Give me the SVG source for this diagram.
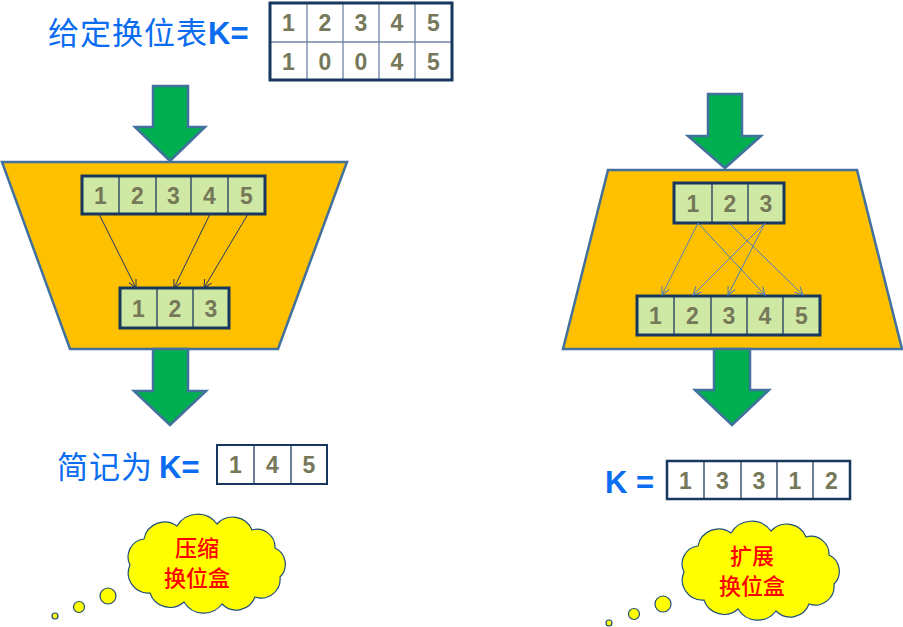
<svg xmlns="http://www.w3.org/2000/svg" width="903" height="627" viewBox="0 0 903 627">
<style>
.blue{fill:#0A6CF0;font-family:"Noto Sans CJK SC","Liberation Sans",sans-serif;font-size:31px}
.kb{font-family:"Liberation Sans",Arial,sans-serif;font-weight:bold}
.d{fill:#76785A;font-family:"Liberation Sans",Arial,sans-serif;font-weight:bold;font-size:23px;text-anchor:middle}
.gcell{fill:#CFE8A4}
.box{fill:none;stroke:#17375E;stroke-width:3}
.div{stroke:#6F86A6;stroke-width:1.3}
.divd{stroke:#1F3A60;stroke-width:1.3}
.garrow{fill:#00B050;stroke:#41719C;stroke-width:2.5;stroke-linejoin:miter}
.trap{fill:#FFC000;stroke:#41719C;stroke-width:2.5}
.cloud{fill:#FFFF00;stroke:#1F4E79;stroke-width:1.2}
.red{fill:#FF0000;font-family:"Noto Sans CJK SC",sans-serif;font-size:22px;font-weight:500;text-anchor:middle}
.cl{stroke:#1F3864;stroke-width:1;fill:none}
.cr{stroke:#4A7EBB;stroke-width:1;fill:none}
</style>
<defs>
<marker id="mL" markerWidth="10" markerHeight="10" refX="9" refY="5" orient="auto" markerUnits="userSpaceOnUse">
<path d="M1,1 L9,5 L1,9" fill="none" stroke="#1F3864" stroke-width="1"/>
</marker>
<marker id="mR" markerWidth="10" markerHeight="10" refX="9" refY="5" orient="auto" markerUnits="userSpaceOnUse">
<path d="M1,1 L9,5 L1,9" fill="none" stroke="#4A7EBB" stroke-width="1"/>
</marker>
<path id="cloudShape" d="M8,50 A18,18 0 0 1 22,24 A21,21 0 0 1 55,11 A24,24 0 0 1 95,9 A21,21 0 0 1 130,15 A18,18 0 0 1 153,33 A18,18 0 0 1 158,62 A19,19 0 0 1 133,82 A20,20 0 0 1 100,89 A23,23 0 0 1 62,87 A21,21 0 0 1 28,78 A20,20 0 0 1 8,50 Z"/>
</defs>

<g id="title">
<text class="blue" x="48" y="44" letter-spacing="1">给定换位表<tspan class="kb" letter-spacing="0">K=</tspan></text>
</g>

<g id="table-top">
<rect x="270" y="3" width="182" height="77" fill="#FFFFFF"/>
<line class="div" x1="270" y1="42" x2="452" y2="42"/>
<line class="div" x1="307" y1="3" x2="307" y2="80"/>
<line class="div" x1="343" y1="3" x2="343" y2="80"/>
<line class="div" x1="379" y1="3" x2="379" y2="80"/>
<line class="div" x1="415" y1="3" x2="415" y2="80"/>
<rect class="box" x="270" y="3" width="182" height="77"/>
<text class="d" x="288.5" y="31">1</text>
<text class="d" x="325" y="31">2</text>
<text class="d" x="361" y="31">3</text>
<text class="d" x="397" y="31">4</text>
<text class="d" x="433.5" y="31">5</text>
<text class="d" x="288.5" y="69.5">1</text>
<text class="d" x="325" y="69.5">0</text>
<text class="d" x="361" y="69.5">0</text>
<text class="d" x="397" y="69.5">4</text>
<text class="d" x="433.5" y="69.5">5</text>
</g>

<g id="arrow-in-left"><polygon class="garrow" points="153,86 188,86 188,127 205,127 170,161 135,127 153,127"/></g>
<g id="arrow-in-right"><polygon class="garrow" points="708,94 742,94 742,136 761,136 725,168 688,136 708,136"/></g>

<g id="box-compress">
<polygon class="trap" points="2,162 347,162 278,349 70,349"/>
<g id="c-in">
<rect class="gcell" x="82" y="176" width="183" height="38"/>
<line class="divd" x1="119" y1="176" x2="119" y2="214"/>
<line class="divd" x1="156" y1="176" x2="156" y2="214"/>
<line class="divd" x1="191" y1="176" x2="191" y2="214"/>
<line class="divd" x1="228" y1="176" x2="228" y2="214"/>
<rect class="box" x="82" y="176" width="183" height="38"/>
<text class="d" x="100.5" y="203.5">1</text>
<text class="d" x="137.5" y="203.5">2</text>
<text class="d" x="173.5" y="203.5">3</text>
<text class="d" x="209.5" y="203.5">4</text>
<text class="d" x="246.5" y="203.5">5</text>
</g>
<g id="c-out">
<rect class="gcell" x="120" y="288" width="109" height="40"/>
<line class="divd" x1="157" y1="288" x2="157" y2="328"/>
<line class="divd" x1="193" y1="288" x2="193" y2="328"/>
<rect class="box" x="120" y="288" width="109" height="40"/>
<text class="d" x="138.5" y="316.5">1</text>
<text class="d" x="175" y="316.5">2</text>
<text class="d" x="211" y="316.5">3</text>
</g>
</g>

<g id="box-expand">
<polygon class="trap" points="608,170 857,170 902,349 563,349"/>
<g id="e-in">
<rect class="gcell" x="674" y="183" width="110" height="40"/>
<line class="divd" x1="712" y1="183" x2="712" y2="223"/>
<line class="divd" x1="748" y1="183" x2="748" y2="223"/>
<rect class="box" x="674" y="183" width="110" height="40"/>
<text class="d" x="693" y="211.5">1</text>
<text class="d" x="730" y="211.5">2</text>
<text class="d" x="766" y="211.5">3</text>
</g>
<g id="e-out">
<rect class="gcell" x="637" y="296" width="183" height="39"/>
<line class="divd" x1="674" y1="296" x2="674" y2="335"/>
<line class="divd" x1="711" y1="296" x2="711" y2="335"/>
<line class="divd" x1="747" y1="296" x2="747" y2="335"/>
<line class="divd" x1="783" y1="296" x2="783" y2="335"/>
<rect class="box" x="637" y="296" width="183" height="39"/>
<text class="d" x="655.5" y="324">1</text>
<text class="d" x="692.5" y="324">2</text>
<text class="d" x="729" y="324">3</text>
<text class="d" x="765" y="324">4</text>
<text class="d" x="801.5" y="324">5</text>
</g>
</g>

<g id="connectors">
<line class="cl" x1="99" y1="214" x2="136" y2="288" marker-end="url(#mL)"/>
<line class="cl" x1="210" y1="214" x2="174" y2="288" marker-end="url(#mL)"/>
<line class="cl" x1="248" y1="214" x2="204" y2="288" marker-end="url(#mL)"/>
<line class="cr" x1="698" y1="223" x2="662" y2="295" marker-end="url(#mR)"/>
<line class="cr" x1="698" y1="223" x2="765" y2="295" marker-end="url(#mR)"/>
<line class="cr" x1="729" y1="223" x2="803" y2="295" marker-end="url(#mR)"/>
<line class="cr" x1="765" y1="223" x2="693" y2="295" marker-end="url(#mR)"/>
<line class="cr" x1="765" y1="223" x2="728" y2="295" marker-end="url(#mR)"/>
</g>

<g id="arrow-out-left"><polygon class="garrow" points="153,349 188,349 188,391 206,391 170,425 134,391 153,391"/></g>
<g id="arrow-out-right"><polygon class="garrow" points="714,349 750,349 750,390 769,390 732,425 695,390 714,390"/></g>

<g id="result-left">
<text class="blue" x="57" y="478" letter-spacing="1">简记为<tspan class="kb" letter-spacing="0" dx="6">K=</tspan></text>
<rect x="217" y="445" width="110" height="39" fill="#FFFFFF"/>
<line class="divd" x1="254" y1="445" x2="254" y2="484"/>
<line class="divd" x1="291" y1="445" x2="291" y2="484"/>
<rect x="217" y="445" width="110" height="39" fill="none" stroke="#17375E" stroke-width="2"/>
<text class="d" x="235.5" y="473">1</text>
<text class="d" x="272.5" y="473">4</text>
<text class="d" x="309" y="473">5</text>
</g>

<g id="result-right">
<text class="blue kb" x="605" y="493">K =</text>
<rect x="667" y="461" width="183" height="38" fill="#FFFFFF"/>
<line class="divd" x1="704" y1="461" x2="704" y2="499"/>
<line class="divd" x1="741" y1="461" x2="741" y2="499"/>
<line class="divd" x1="777" y1="461" x2="777" y2="499"/>
<line class="divd" x1="813" y1="461" x2="813" y2="499"/>
<rect x="667" y="461" width="183" height="38" fill="none" stroke="#17375E" stroke-width="2.5"/>
<text class="d" x="685.5" y="488.5">1</text>
<text class="d" x="722.5" y="488.5">3</text>
<text class="d" x="759" y="488.5">3</text>
<text class="d" x="795" y="488.5">1</text>
<text class="d" x="831.5" y="488.5">2</text>
</g>

<g id="cloud-left">
<circle class="cloud" cx="55" cy="616" r="3"/>
<circle class="cloud" cx="79" cy="607" r="5.5"/>
<circle class="cloud" cx="108" cy="596" r="8"/>
<use href="#cloudShape" class="cloud" transform="translate(122,515)"/>
<text class="red" x="197" y="556">压缩</text>
<text class="red" x="197" y="586">换位盒</text>
</g>

<g id="cloud-right">
<circle class="cloud" cx="609" cy="623" r="3"/>
<circle class="cloud" cx="634" cy="614" r="5.5"/>
<circle class="cloud" cx="663" cy="604" r="8"/>
<use href="#cloudShape" class="cloud" transform="translate(676,522)"/>
<text class="red" x="752" y="564">扩展</text>
<text class="red" x="752" y="594">换位盒</text>
</g>
</svg>
